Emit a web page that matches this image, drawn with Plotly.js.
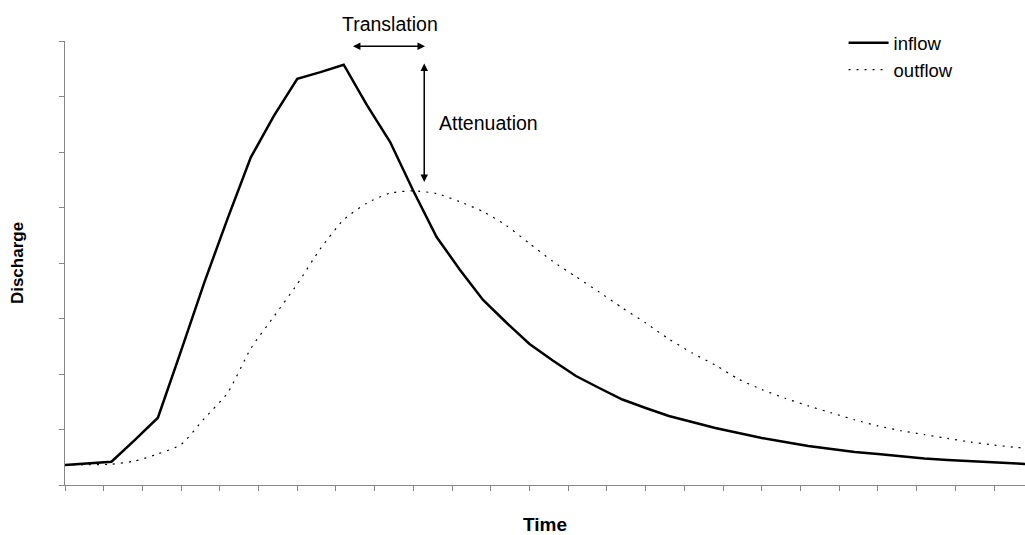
<!DOCTYPE html>
<html>
<head>
<meta charset="utf-8">
<script src="https://cdn.plot.ly/plotly-3.0.1.min.js"></script>
<style>html,body{margin:0;padding:0;background:#fff;}#chart{width:1025px;height:535px;}</style>
</head>
<body>
<div id="chart"></div>
<script>
const time = [0,3,6,9,12,15,18,21,24,27,30,33,36,39,42,45,48,51,54,57,60,63,66,69,72,75,78,81,84,87,90,93,96,99,102,105,108,111,114,117,120,123,126];
const inflow = [18,19.5,21,40.5,60.6,121,182.6,240,295.2,332.7,366,372,378.6,342.3,309,264.9,223.4,194,166.7,146.4,127,112.2,98.2,87.4,77,69.4,62.2,56.8,51.4,46.8,42.3,38.7,35.1,32.4,29.7,27.9,25.7,23.9,22.5,21.6,20.7,19.4,18];
const outflow = [18,18.3,18.7,21.6,28,36.5,60,83,123,152,181,213,239,254,263,265,262.5,255.2,246.3,233.8,217.5,201.5,187.7,173.8,159.5,146,131.5,119,108,95.4,86,78.2,71.3,65,58.7,53.3,48.9,45.4,42,38.6,36,33.8,32.5];
const seriesNames = ["inflow", "outflow"];
const labels = {x: "Time", y: "Discharge", translation: "Translation", attenuation: "Attenuation"};

const FONT = "Liberation Sans, Arial, sans-serif";
const axisGray = "#868686";

const traces = [
  {x: time, y: inflow, name: seriesNames[0], type: "scatter", mode: "lines",
   line: {color: "#000", width: 2.5}},
  {x: time, y: outflow, name: seriesNames[1], type: "scatter", mode: "lines",
   line: {color: "#000", width: 1.2, dash: "2px,6px", shape: "spline", smoothing: 0.6}}
];

const layout = {
  width: 1025, height: 535,
  margin: {l: 65, r: 0, t: 41, b: 50},
  paper_bgcolor: "#fff", plot_bgcolor: "#fff",
  font: {family: FONT, color: "#000", size: 19},
  showlegend: true,
  legend: {x: 0.811, xanchor: "left", y: 1.038, yanchor: "top", bgcolor: "rgba(0,0,0,0)",
           font: {family: FONT, size: 18.5, color: "#000"}, tracegroupgap: 0, itemwidth: 40},
  xaxis: {range: [0, 124], tick0: 0, dtick: 5, showticklabels: false, ticks: "outside",
          ticklen: 5, tickcolor: axisGray, showline: true, linecolor: axisGray, linewidth: 1,
          showgrid: false, zeroline: false,
          title: {text: "<b>" + labels.x + "</b>", font: {family: FONT, size: 19}, standoff: 35}},
  yaxis: {range: [0, 400], tick0: 0, dtick: 50, showticklabels: false, ticks: "outside",
          ticklen: 5, tickcolor: axisGray, showline: true, linecolor: axisGray, linewidth: 1,
          showgrid: false, zeroline: false,
          title: {text: "<b>" + labels.y + "</b>", font: {family: FONT, size: 17}, standoff: 31}},
  annotations: [
    {text: labels.translation, xref: "x", yref: "paper", x: 42, y: 1.039, showarrow: false,
     font: {family: FONT, size: 19.5}, xanchor: "center", yanchor: "middle"},
    {text: labels.attenuation, xref: "x", yref: "y", x: 48.0, y: 326.4, showarrow: false,
     font: {family: FONT, size: 19.5}, xanchor: "left", yanchor: "middle"},
    {text: "", xref: "x", yref: "y", x: 46.5, y: 395.2, axref: "x", ayref: "y", ax: 37.0, ay: 395.2,
     showarrow: true, arrowhead: 2, arrowside: "end+start", arrowsize: 1, arrowwidth: 1.5, arrowcolor: "#000"},
    {text: "", xref: "x", yref: "y", x: 46.4, y: 273, axref: "x", ayref: "y", ax: 46.4, ay: 381,
     showarrow: true, arrowhead: 2, arrowside: "end+start", arrowsize: 1, arrowwidth: 1.5, arrowcolor: "#000"}
  ]
};

Plotly.newPlot("chart", traces, layout, {displayModeBar: false, staticPlot: true});
</script>
</body>
</html>
